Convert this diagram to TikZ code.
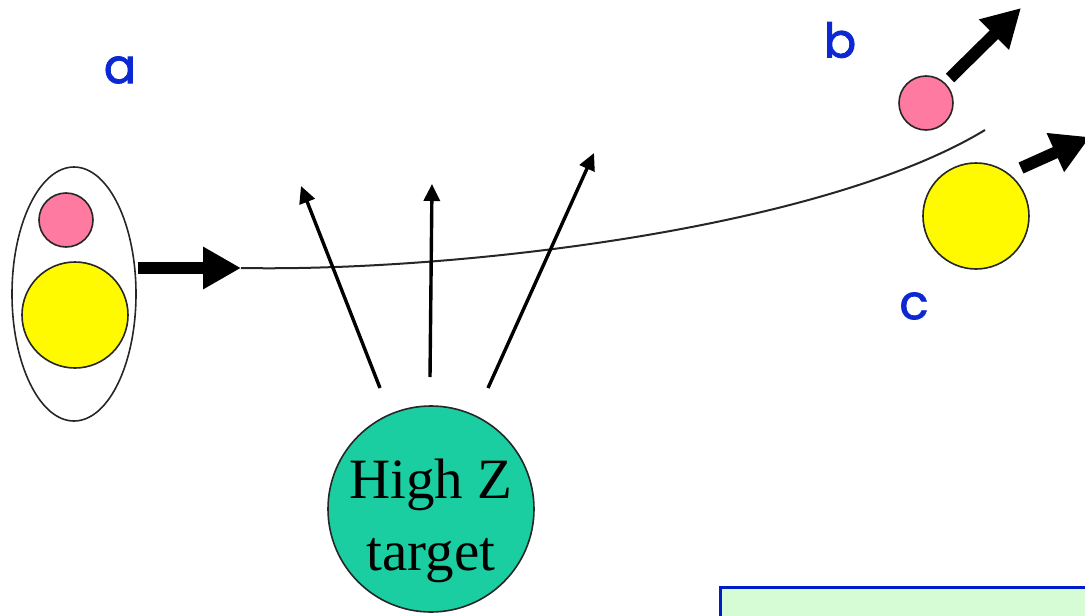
\documentclass[tikz,border=0pt]{standalone}
\usepackage{fontspec}
\setmainfont{Liberation Serif}
\newfontfamily\labfont[FakeBold=1.6]{Poppins}
\usetikzlibrary{arrows.meta,shapes.geometric}
\definecolor{pinkball}{RGB}{255,122,160}
\definecolor{yellowball}{RGB}{255,250,0}
\definecolor{tealfill}{RGB}{26,206,162}
\definecolor{labblue}{RGB}{12,40,210}
\definecolor{boxfill}{RGB}{213,252,213}
\definecolor{boxline}{RGB}{0,30,200}
\tikzset{
  ball/.style={circle, draw=black!85, line width=1.6pt, inner sep=0pt},
  pinkb/.style={ball, fill=pinkball, minimum size=54pt},
  yellowb/.style={ball, fill=yellowball, minimum size=106pt},
  fatarrow/.style={line width=12pt, -{Triangle[length=38pt,width=40pt]}},
  thinarrow/.style={line width=3.4pt, -{Triangle[length=17pt,width=16pt]}},
  lab/.style={text=labblue, font=\labfont\fontsize{48}{54}\selectfont, inner sep=0pt},
}
\begin{document}
\begin{tikzpicture}[x=1pt,y=-1pt]
\useasboundingbox (0,0) rectangle (1085,616);
\clip (0,0) rectangle (1085,616);
% deuteron
\node[ellipse, draw=black!85, line width=1.6pt, minimum width=124pt, minimum height=254pt, inner sep=0pt] (deut) at (74,294) {};
\node[pinkb] (p1) at (66,220) {};
\node[yellowb] (y1) at (75,315) {};
\coordinate (a0) at (138,268);
\coordinate (a1) at (241,268);
\draw[fatarrow] (a0) -- (a1);
% trajectory
\coordinate (tend) at (985,130);
\draw[line width=2pt, black!85] (a1) .. controls (450,272) and (820,230) .. (tend);
% target
\node[circle, draw=black!85, line width=1.6pt, fill=tealfill, minimum size=206pt, inner sep=0pt] (target) at (431,509) {};
\node[align=center, font=\fontsize{57}{72}\selectfont, inner sep=0pt] (tlab) at (431,521) {High Z\\target};
% emitted photons
\coordinate (e1s) at (380,388); \coordinate (e1e) at (301,186);
\coordinate (e2s) at (430,377); \coordinate (e2e) at (432,184);
\coordinate (e3s) at (488,388); \coordinate (e3e) at (594,153);
\draw[thinarrow] (e1s) -- (e1e);
\draw[thinarrow] (e2s) -- (e2e);
\draw[thinarrow] (e3s) -- (e3e);
% breakup products
\node[pinkb] (p2) at (926,103) {};
\node[yellowb] (y2) at (976,216) {};
\coordinate (b0) at (950,78); \coordinate (b1) at (1021,8);
\draw[fatarrow] (b0) -- (b1);
\coordinate (c0) at (1021,168); \coordinate (c1) at (1090,137);
\draw[fatarrow] (c0) -- (c1);
% labels
\node[lab] (la) at (120,70) {a};
\node[lab] (lb) at (840,40) {b};
\node[lab] (lc) at (914,306) {c};
% box
\node[draw=boxline, fill=boxfill, line width=3pt, minimum width=380pt, minimum height=60pt, anchor=north west, inner sep=0pt] (box) at (719,586) {};
\end{tikzpicture}
\end{document}
